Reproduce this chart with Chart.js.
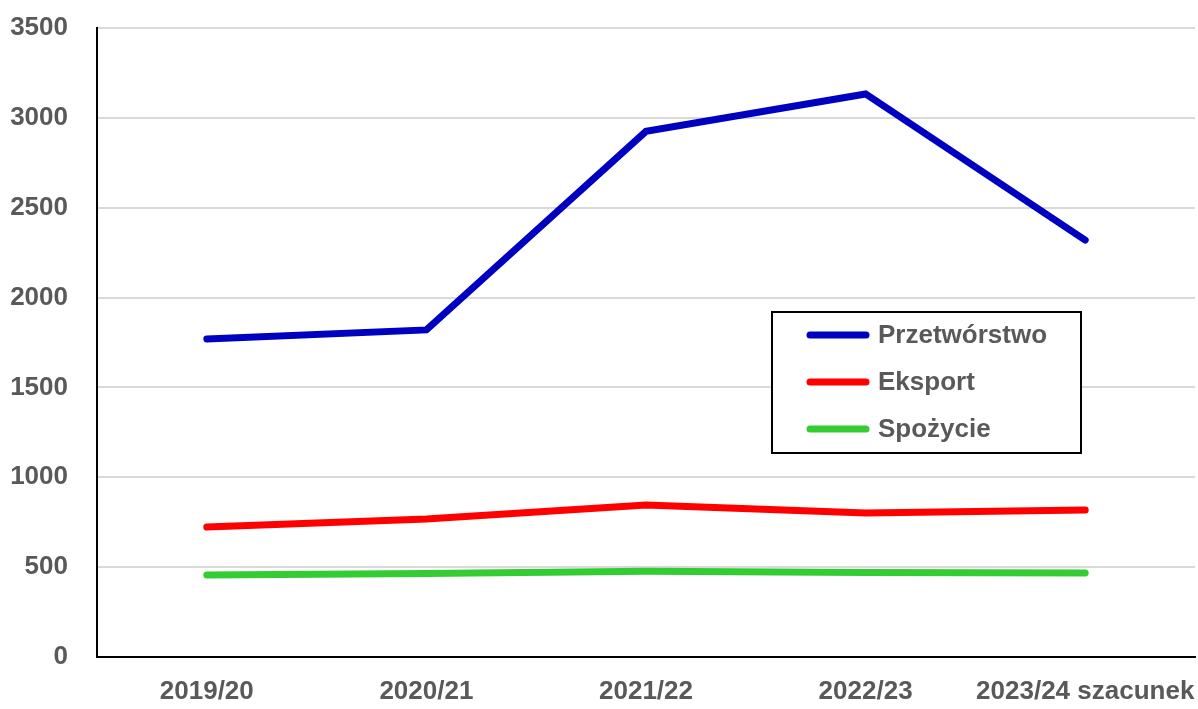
<!DOCTYPE html>
<html>
<head>
<meta charset="utf-8">
<script src="https://cdn.jsdelivr.net/npm/chart.js@4"></script>
<style>
  html, body { margin: 0; padding: 0; background: #fff; }
  #wrap { width: 1198px; height: 709px; }
</style>
</head>
<body>
<div id="wrap"><canvas id="myChart" width="1198" height="709"></canvas></div>
<script>
const categories = ["2019/20", "2020/21", "2021/22", "2022/23", "2023/24 szacunek"];
const przetworstwo = [1770, 1820, 2925, 3133, 2320];
const eksport = [723, 768, 846, 801, 818];
const spozycie = [456, 465, 477, 470, 468];
const yTicks = [0, 500, 1000, 1500, 2000, 2500, 3000, 3500];

const tickFont = { family: "'Liberation Sans Narrow', 'Arial Narrow', 'Liberation Sans', sans-serif", size: 26, weight: "bold" };
const textColor = "#595959";

// legend box drawn inside the plot area
const boxLegend = {
  id: "boxLegend",
  afterDraw(chart) {
    const ctx = chart.ctx;
    const x = 772, y = 312, w = 309, h = 141;
    ctx.save();
    ctx.fillStyle = "#fff";
    ctx.fillRect(x, y, w, h);
    ctx.strokeStyle = "#000";
    ctx.lineWidth = 2;
    ctx.strokeRect(x, y, w, h);
    ctx.font = "bold 26px 'Liberation Sans', Arial, sans-serif";
    ctx.textBaseline = "middle";
    chart.data.datasets.forEach((ds, i) => {
      const ry = y + 23 + i * 47;
      ctx.strokeStyle = ds.borderColor;
      ctx.lineWidth = 7;
      ctx.lineCap = "round";
      ctx.beginPath();
      ctx.moveTo(x + 38, ry);
      ctx.lineTo(x + 94, ry);
      ctx.stroke();
      ctx.fillStyle = textColor;
      ctx.fillText(ds.label, x + 106, ry + 1);
    });
    ctx.restore();
  }
};

const lineStyle = {
  borderWidth: 7,
  pointRadius: 0,
  borderCapStyle: "round",
  tension: 0,
  fill: false
};

new Chart(document.getElementById("myChart"), {
  type: "line",
  data: {
    labels: categories,
    datasets: [
      { label: "Przetwórstwo", data: przetworstwo, borderColor: "#0000c0", ...lineStyle },
      { label: "Eksport", data: eksport, borderColor: "#ff0000", ...lineStyle },
      { label: "Spożycie", data: spozycie, borderColor: "#33cc33", ...lineStyle }
    ]
  },
  options: {
    responsive: false,
    animation: false,
    layout: { autoPadding: false, padding: { top: 28, right: 3, left: 0, bottom: 0 } },
    plugins: {
      legend: { display: false },
      tooltip: { enabled: false }
    },
    scales: {
      x: {
        offset: true,
        grid: { display: false, drawTicks: false },
        border: { color: "#000", width: 2 },
        ticks: { color: textColor, font: tickFont, padding: 19, maxRotation: 0, autoSkip: false },
        afterFit(scale) {
          scale.height = 52;
          scale.paddingLeft = 0;
          scale.paddingRight = 0;
        }
      },
      y: {
        min: 0,
        max: 3500,
        afterBuildTicks(scale) { scale.ticks = yTicks.map(v => ({ value: v })); },
        grid: { color: "#d9d9d9", lineWidth: 2, drawTicks: false },
        border: { color: "#000", width: 2 },
        ticks: { color: textColor, font: tickFont, padding: 29, callback: v => String(v) },
        afterFit(scale) {
          scale.width = 97;
          scale.paddingTop = 0;
          scale.paddingBottom = 0;
        }
      }
    }
  },
  plugins: [boxLegend]
});
</script>
</body>
</html>
